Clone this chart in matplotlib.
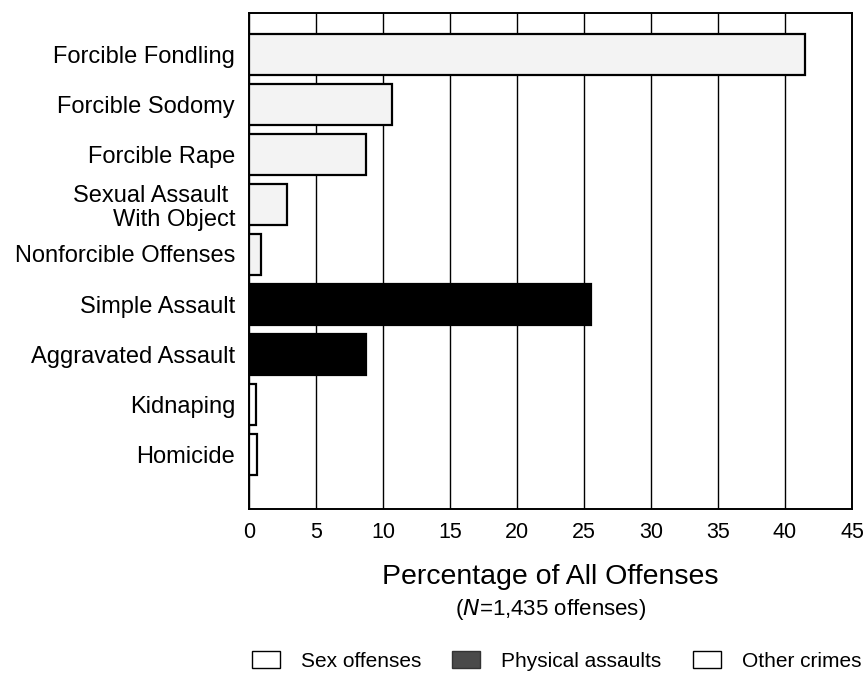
import matplotlib
matplotlib.use("Agg")
import matplotlib.pyplot as plt
from matplotlib.patches import Patch

plt.rcParams['font.family'] = ['Liberation Sans', 'DejaVu Sans']

categories = ["Forcible Fondling", "Forcible Sodomy", "Forcible Rape",
              "Sexual Assault \nWith Object", "Nonforcible Offenses",
              "Simple Assault", "Aggravated Assault", "Kidnaping", "Homicide"]
values = [41.5, 10.7, 8.7, 2.8, 0.9, 25.5, 8.7, 0.5, 0.6]
groups = ["sex", "sex", "sex", "sex", "sex", "phys", "phys", "other", "other"]

colors = {"sex": "#f3f3f3", "phys": "black", "other": "white"}

fig = plt.figure(figsize=(8.64, 6.73), dpi=100)
ax = fig.add_axes([249 / 864, 1 - 509 / 673, (852 - 249) / 864, (509 - 13) / 673])

y = list(range(len(categories)))
ax.barh(y, values, height=0.82, color=[colors[g] for g in groups],
        edgecolor="black", linewidth=1.6, zorder=3)

ax.set_xlim(0, 45)
ax.set_ylim(len(categories) - 1 + 1.1, -0.82)
ax.set_xticks(range(0, 50, 5))
ax.set_yticks(y)
ax.set_yticklabels(categories, fontsize=17, linespacing=1.15)
ax.tick_params(axis="x", labelsize=15.5, length=0, pad=9)
ax.tick_params(axis="y", length=0, pad=10)
ax.xaxis.grid(True, color="black", linewidth=1.0, zorder=0)
ax.set_axisbelow(True)
for s in ax.spines.values():
    s.set_linewidth(1.4)

cx = 0.5 * (249 + 852) / 864
fig.text(cx, 1 - 577 / 673, "Percentage of All Offenses",
         ha="center", va="center", fontsize=20.5)
fig.text(cx, 1 - 609 / 673, r"($\it{N}$=1,435 offenses)",
         ha="center", va="center", fontsize=16)

handles = [Patch(facecolor="white", edgecolor="black", linewidth=1, label="Sex offenses"),
           Patch(facecolor="#4a4a4a", edgecolor="#333333", linewidth=1, label="Physical assaults"),
           Patch(facecolor="white", edgecolor="black", linewidth=1, label="Other crimes")]
fig.legend(handles=handles, loc="center right", bbox_to_anchor=(880 / 864, 1 - 661 / 673),
           ncol=3, frameon=False, fontsize=15, handlelength=1.35, handleheight=0.9,
           columnspacing=1.5, handletextpad=1.0)

fig.savefig("out.png", dpi=100)
